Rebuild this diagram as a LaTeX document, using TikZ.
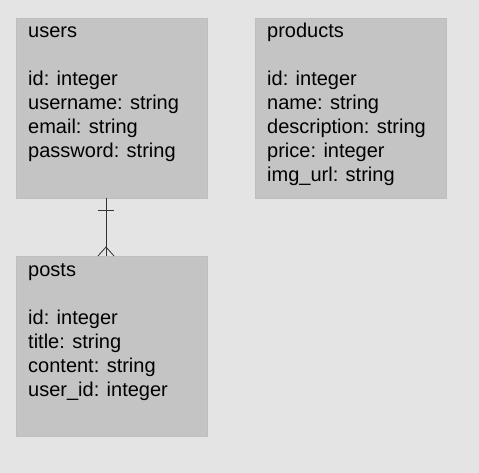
\documentclass[tikz,border=0pt]{standalone}
\usepackage{fontspec}
\setmainfont{Liberation Sans}
\usetikzlibrary{positioning,calc}

\definecolor{bgGray}{HTML}{E4E4E4}
\definecolor{tableGray}{HTML}{C4C4C4}
\definecolor{lineGray}{HTML}{333333}

\tikzset{
  table/.style={fill=tableGray, draw=tableGray!97!black, line width=0.5pt, anchor=north west,
    minimum width=191pt, minimum height=180pt, inner sep=0pt},
  fields/.style={anchor=north west, inner sep=0pt, align=left,
    font=\fontsize{20}{24}\selectfont},
  rel/.style={draw=lineGray, line width=0.8pt}
}

\begin{document}
\begin{tikzpicture}[x=1pt,y=-1pt]

% background
\fill[bgGray] (0,0) rectangle (479,473);
\useasboundingbox (0,0) rectangle (479,473);

% tables
\node[table] (users) at (16,18) {};
\node[table] (products) at (255,18) {};
\node[table] (posts) at (16,256) {};

% table contents
\node[fields] (usersText) at ([shift={(12,3)}]users.north west)
  {\strut users\\[24pt]id: integer\\username: string\\email: string\\password: string};
\node[fields] (productsText) at ([shift={(12,3)}]products.north west)
  {\strut products\\[24pt]id: integer\\name: string\\description: string\\price: integer\\img\_url: string};
\node[fields] (postsText) at ([shift={(12,3)}]posts.north west)
  {\strut posts\\[24pt]id: integer\\title: string\\content: string\\user\_id: integer};

% relation users (one) -- posts (many)
\coordinate (relTop) at ([xshift=90]users.south west);
\coordinate (relBot) at ([xshift=90]posts.north west);
\coordinate (oneMark) at ($(relTop)+(0,12)$);
\coordinate (manyMark) at ($(relBot)+(0,-9)$);

\draw[rel] (relTop) -- (relBot);
% one
\draw[rel] ($(oneMark)+(-8,0)$) -- ($(oneMark)+(8,0)$);
% many
\draw[rel] ($(relBot)+(-8,0)$) -- (manyMark) -- ($(relBot)+(8,0)$);

\end{tikzpicture}
\end{document}
